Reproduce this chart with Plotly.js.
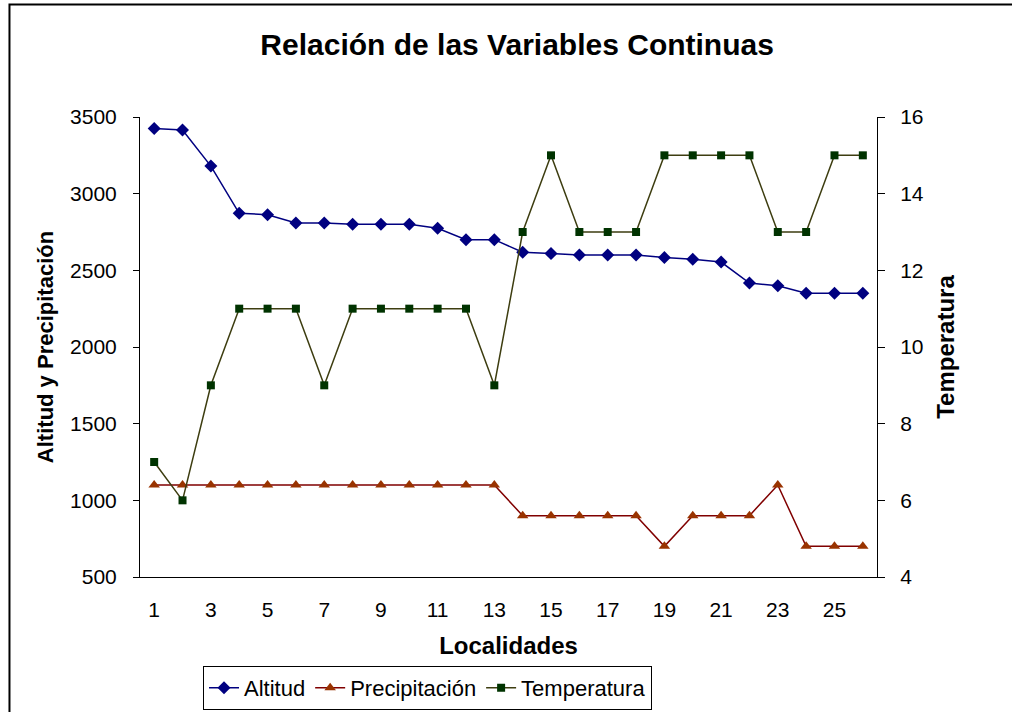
<!DOCTYPE html>
<html>
<head>
<meta charset="utf-8">
<script src="https://cdn.plot.ly/plotly-3.0.1.min.js"></script>
<style>
  html, body { margin: 0; padding: 0; background: #fff; }
  #chart { width: 1012px; height: 712px; }
</style>
</head>
<body>
<div id="chart"></div>
<script>
const localidades = [1,2,3,4,5,6,7,8,9,10,11,12,13,14,15,16,17,18,19,20,21,22,23,24,25,26];
const altitud = [3425,3415,3180,2872,2863,2809,2809,2800,2800,2800,2774,2700,2700,2618,2609,2600,2600,2600,2583,2572,2554,2417,2400,2350,2350,2350];
const precipitacion = [1100,1100,1100,1100,1100,1100,1100,1100,1100,1100,1100,1100,1100,900,900,900,900,900,700,900,900,900,1100,700,700,700];
const temperatura = [7,6,9,11,11,11,9,11,11,11,11,11,9,13,15,13,13,13,15,15,15,15,13,13,15,15];
const xTickVals = [1,3,5,7,9,11,13,15,17,19,21,23,25];
const xBoundaries = Array.from({length: localidades.length + 1}, (_, i) => i + 0.5);

const FONT = 'Liberation Sans, Arial, sans-serif';

const traces = [
  {
    x: localidades, y: altitud, name: 'Altitud', type: 'scatter', mode: 'lines+markers',
    line: {color: '#000080', width: 1.5},
    marker: {symbol: 'diamond', size: 10, color: '#000080'},
    xaxis: 'x', yaxis: 'y'
  },
  {
    x: localidades, y: precipitacion, name: 'Precipitación', type: 'scatter', mode: 'lines+markers',
    line: {color: '#800000', width: 1.5},
    marker: {symbol: 'triangle-up', size: 10, color: '#993300'},
    xaxis: 'x', yaxis: 'y'
  },
  {
    x: localidades, y: temperatura, name: 'Temperatura', type: 'scatter', mode: 'lines+markers',
    line: {color: '#3d3d10', width: 1.5},
    marker: {symbol: 'square', size: 8, color: '#003300'},
    xaxis: 'x', yaxis: 'y2'
  }
];

const layout = {
  width: 1012, height: 712,
  margin: {l: 140, r: 135, t: 117, b: 135, pad: 0},
  paper_bgcolor: '#ffffff', plot_bgcolor: '#ffffff',
  font: {family: FONT, size: 21, color: '#000'},
  title: {
    text: '<b>Relación de las Variables Continuas</b>',
    font: {family: FONT, size: 30, color: '#000'},
    x: 0.511, xref: 'container', xanchor: 'center',
    y: 0.937, yref: 'container', yanchor: 'middle'
  },
  showlegend: true,
  legend: {
    orientation: 'h', xref: 'container', yref: 'container',
    x: 0.2006, xanchor: 'left', y: 0.003, yanchor: 'bottom',
    bordercolor: '#000', borderwidth: 1, bgcolor: '#fff',
    font: {family: FONT, size: 22, color: '#000'},
    traceorder: 'normal', itemwidth: 30
  },
  xaxis: {
    range: [0.5, 26.5], tickmode: 'array', tickvals: xTickVals, ticktext: xTickVals.map(String),
    ticks: '', showgrid: false, zeroline: false,
    showline: true, linecolor: '#000', linewidth: 1,
    ticklabelstandoff: 14,
    tickfont: {family: FONT, size: 21, color: '#000'},
    title: {text: '<b>Localidades</b>', font: {family: FONT, size: 24, color: '#000'}, standoff: 16},
    fixedrange: true
  },
  xaxis2: {
    overlaying: 'x', anchor: 'y', side: 'bottom',
    range: [0.5, 26.5], tickmode: 'array', tickvals: xBoundaries,
    ticks: 'outside', ticklen: 6, tickcolor: '#000', tickwidth: 1,
    showticklabels: false, showgrid: false, zeroline: false, showline: false,
    fixedrange: true
  },
  yaxis: {
    range: [500, 3500], tickmode: 'linear', tick0: 500, dtick: 500,
    ticks: 'outside', ticklen: 6, tickcolor: '#000', tickwidth: 1,
    showgrid: false, zeroline: false, showline: true, linecolor: '#000', linewidth: 1,
    ticklabelstandoff: 12,
    tickfont: {family: FONT, size: 21, color: '#000'},
    title: {text: '<b>Altitud y Precipitación</b>', font: {family: FONT, size: 22, color: '#000'}, standoff: 10},
    fixedrange: true
  },
  yaxis2: {
    overlaying: 'y', side: 'right', anchor: 'x',
    range: [4, 16], tickmode: 'linear', tick0: 4, dtick: 2,
    ticks: 'outside', ticklen: 7, tickcolor: '#000', tickwidth: 1,
    showgrid: false, zeroline: false, showline: true, linecolor: '#000', linewidth: 1,
    ticklabelstandoff: 11,
    tickfont: {family: FONT, size: 21, color: '#000'},
    title: {text: '<b>Temperatura</b>', font: {family: FONT, size: 24, color: '#000'}, standoff: 14},
    fixedrange: true
  },
  yaxis3: {
    overlaying: 'y', side: 'right', anchor: 'x',
    range: [4, 16], tickmode: 'linear', tick0: 4, dtick: 2,
    ticks: 'inside', ticklen: 7, tickcolor: '#000', tickwidth: 1,
    showticklabels: false, showgrid: false, zeroline: false, showline: false,
    fixedrange: true
  },
  shapes: [
    {type: 'rect', xref: 'paper', yref: 'paper',
     x0: -0.1771, x1: 1.6, y0: -1.0, y1: 1.2446,
     line: {color: '#000', width: 2}, fillcolor: 'rgba(0,0,0,0)', layer: 'below'}
  ]
};

Plotly.newPlot('chart', traces, layout, {displayModeBar: false, staticPlot: true});
</script>
</body>
</html>
